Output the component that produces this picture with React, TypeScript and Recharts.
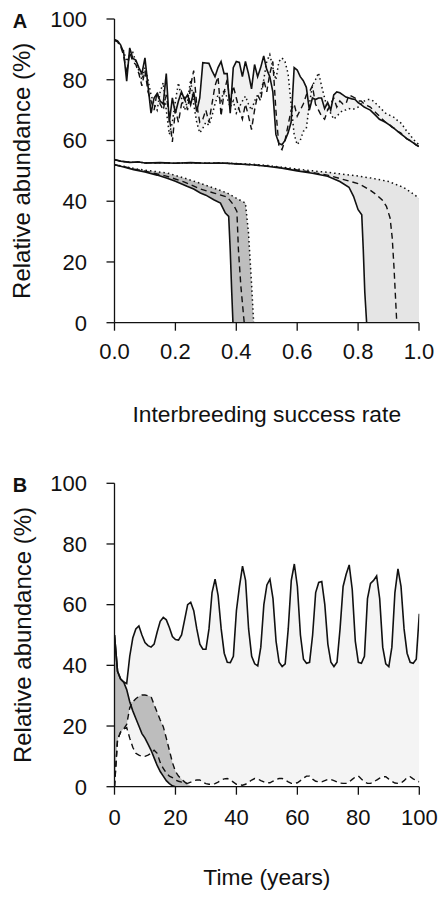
import React from "react";
import { ComposedChart, Line, Area, XAxis, YAxis, Label } from "recharts";

const FONT = '"Liberation Sans", Arial, Helvetica, sans-serif';
const INK = "#111";

// ---------- Panel A: sweep over interbreeding success rate ----------
const rateGrid = Array.from({ length: 101 }, (_, i) => i / 100);
const rateTicks = [0, 0.2, 0.4, 0.6, 0.8, 1];

// upper, noisy group (one value per 0.01 step)
const topSolid = [
  93.3, 92.8, 91.5, 89, 79.5, 90.5, 87, 86.5, 84, 82,
  87.2, 78, 69, 74, 75.5, 73, 72, 82, 66, 74,
  69, 73, 76, 73.5, 75, 71.8, 76, 69.5, 74, 85.6,
  85.5, 85.4, 83, 81, 84, 86, 82, 82, 69, 84,
  86, 85.7, 81, 86, 82, 77, 85, 81, 84, 87.8,
  83.4, 81, 76, 62, 59, 58.6, 60, 62.5, 66, 84,
  83.2, 81, 79.7, 77.5, 70, 74, 73.5, 74, 74, 70.5,
  72.5, 70, 75, 76, 75.7, 75, 74.3, 74, 73.7, 73.5,
  72.5, 71.8, 71, 70.5, 70, 69, 68, 67, 66.5, 66,
  65.3, 64.6, 63.8, 63, 62.2, 61.4, 60.6, 60, 59.3, 58.6, 58,
];
const topDashed = [
  93, 92.5, 91, 88, 82, 89, 86, 85, 82, 78,
  83, 76, 73, 70, 76, 72, 70, 75, 68, 59.5,
  70, 66, 72, 74, 70, 78, 83, 72, 66, 67,
  70, 66, 72, 78, 81, 68, 76, 80, 72, 78,
  74, 70, 67, 72, 68, 63.6, 70, 75, 73, 80,
  76, 82, 86, 70, 58, 57, 60, 65, 70, 72,
  68, 70, 72, 75, 76, 78, 72, 70, 68, 67,
  70, 72, 74, 71, 73, 72, 72, 75, 74.5, 74,
  73, 73, 72, 71.5, 71, 70, 69, 68, 67, 66,
  65.5, 64.5, 64, 63, 62.5, 61.5, 60.5, 60, 59.5, 58.5, 58,
];
const topDotted = [
  93, 92.5, 91, 89.5, 86, 88, 89, 86, 83, 80,
  84, 80, 75, 72, 70, 76, 79, 70, 62, 66,
  73, 79, 74, 70, 73, 80, 72, 66, 62.5, 64,
  66, 65, 68, 72, 75, 73, 76.8, 74, 71, 73,
  69, 71, 73, 74.6, 72, 70, 73, 75, 75.7, 80,
  86, 88.3, 84, 80, 86, 87.2, 86, 82, 72, 62,
  58.6, 60, 63, 64, 72, 78, 80, 82.3, 78, 74,
  70.2, 69, 67, 68, 69, 70, 70, 70.5, 70.2, 70.5,
  71, 72, 73, 73.5, 73.5, 73, 72, 71, 70, 69,
  68.5, 68, 67.5, 66.5, 65.8, 64.5, 63, 62, 60.5, 59.5, 58.6,
];

// lower groups: [rate, abundance] pairs, each curve collapses to zero
const rightSolid: [number, number][] = [
  [0, 53.7], [0.02, 53.2], [0.05, 52.8], [0.08, 52.9], [0.1, 52.6], [0.15, 52.7],
  [0.2, 52.5], [0.25, 52.7], [0.3, 52.5], [0.35, 52.6], [0.4, 52.3], [0.45, 52],
  [0.5, 51.5], [0.55, 50.9], [0.6, 50], [0.65, 49.2], [0.7, 48.2], [0.74, 46.5],
  [0.77, 44.6], [0.785, 41.6], [0.8, 37.2], [0.812, 35.5], [0.817, 24], [0.822, 10],
  [0.828, 0],
];
const rightDashed: [number, number][] = [
  [0, 53.7], [0.02, 53.2], [0.05, 52.8], [0.08, 52.9], [0.1, 52.6], [0.15, 52.7],
  [0.2, 52.5], [0.25, 52.7], [0.3, 52.5], [0.35, 52.6], [0.4, 52.3], [0.45, 52],
  [0.5, 51.6], [0.55, 51], [0.6, 50.3], [0.65, 49.5], [0.7, 48.6], [0.75, 47.2],
  [0.8, 45.8], [0.818, 44.9], [0.84, 43.6], [0.861, 42.1], [0.88, 40.3], [0.893, 38.3],
  [0.905, 34.5], [0.912, 28], [0.918, 18], [0.927, 0],
];
const rightDotted: [number, number][] = [
  [0, 53.7], [0.02, 53.2], [0.05, 52.8], [0.08, 52.9], [0.1, 52.6], [0.15, 52.7],
  [0.2, 52.5], [0.25, 52.7], [0.3, 52.5], [0.35, 52.6], [0.4, 52.4], [0.45, 52.2],
  [0.5, 51.8], [0.55, 51.2], [0.6, 50.6], [0.65, 50], [0.7, 49.5], [0.75, 48.9],
  [0.8, 48.3], [0.85, 47.5], [0.9, 46.5], [0.95, 44.5], [0.97, 43.2], [1, 41],
];
const leftSolid: [number, number][] = [
  [0, 52], [0.03, 51.3], [0.063, 50.4], [0.1, 49.6], [0.14, 48.6], [0.173, 47.6],
  [0.2, 46.6], [0.238, 44.9], [0.26, 44], [0.282, 42.7], [0.3, 42], [0.326, 40.5],
  [0.348, 39.4], [0.364, 36.1], [0.375, 35], [0.38, 24], [0.385, 10], [0.389, 0],
];
const leftDashed: [number, number][] = [
  [0, 52], [0.03, 51.4], [0.063, 50.6], [0.1, 49.9], [0.173, 48.2], [0.23, 46.3],
  [0.282, 44], [0.33, 42.6], [0.37, 41.4], [0.391, 38.8], [0.402, 36.6], [0.407, 24],
  [0.415, 12], [0.426, 0],
];
const leftDotted: [number, number][] = [
  [0, 52], [0.03, 51.5], [0.063, 50.8], [0.1, 50.2], [0.173, 49.3], [0.23, 47.6],
  [0.282, 45.9], [0.33, 44.2], [0.37, 42.7], [0.4, 41], [0.43, 39.4], [0.44, 29.6],
  [0.45, 13], [0.457, 0],
];

// ---------- Panel B: time series (one value per year) ----------
const years = Array.from({ length: 101 }, (_, i) => i);
const timeTicks = [0, 20, 40, 60, 80, 100];

const solidB = [
  50, 38, 35.5, 34.5, 34, 43, 49, 52, 53, 50,
  47.5, 46.5, 46, 47, 51, 54.5, 55.8, 55, 52.5, 49.5,
  48.5, 48.3, 50, 55, 60, 60.8, 58, 52, 47, 45.3,
  45.3, 52, 64, 68.4, 63, 52, 44, 41, 40.9, 43,
  58, 66, 72.7, 68, 52, 43, 40.5, 39.8, 46, 60,
  66.5, 68.4, 62, 48, 41, 39.6, 40.5, 52, 68, 73.4,
  66, 50, 42, 40.7, 41, 50, 64, 67.3, 67.6, 60,
  47, 41, 39.6, 41, 52, 66, 70, 73.1, 65, 48,
  41, 40.7, 43, 62, 67, 68, 69.5, 62, 46, 40.5,
  39.6, 46, 64, 71.8, 66, 52, 44, 41, 40.7, 42, 57,
];
const dashedB = [
  0, 15.5, 18, 19, 19.5, 16, 13, 11, 10.4, 10,
  10, 10.4, 11, 12, 11, 8, 6, 4.5, 3.5, 3,
  2.2, 1.8, 1.5, 1.2, 1.1, 1.5, 2, 2.2, 2.2, 1.5,
  1, 0.8, 0.8, 1, 1.5, 2.2, 2.6, 2.7, 2.2, 1.5,
  0.8, 0.6, 0.5, 0.8, 1.5, 2.2, 2.7, 2.6, 2, 1.6,
  1.3, 1.3, 1.8, 2.4, 2.7, 2.7, 2.2, 1.6, 1.1, 1.1,
  1.3, 2, 2.8, 3.5, 3.5, 2.5, 1.8, 1.6, 1.6, 2,
  2.4, 2.4, 2, 1.6, 1.2, 1.1, 1.1, 1.6, 2.4, 3.2,
  3.5, 2.5, 1.6, 1.1, 1.1, 1.5, 2.2, 2.8, 3.3, 3.3,
  2.5, 1.8, 1.2, 1.1, 1.2, 2, 3, 3.3, 2.6, 2, 1.6,
];
// the collapsing pair, defined until it reaches zero
const solidA = [
  50, 38, 35.5, 34.5, 32, 28, 25, 22.5, 20, 17.5,
  16, 14, 12, 9.5, 7, 5, 3.5, 2, 1, 0.3, 0,
];
const dashedA = [
  0, 15.5, 18, 19, 20.5, 26, 28, 29, 29.8, 30.2,
  30.2, 30, 29.7, 27, 24.5, 22, 19.8, 16, 12, 8,
  5, 3.5, 2.5, 1.6, 0.8, 0.3,
];

// ---------- tables ----------
const topRows = rateGrid.map((x, i) => {
  const s = topSolid[i];
  const d = topDashed[i];
  const o = topDotted[i];
  return { x, s, d, o, band: [Math.min(s, d, o), Math.max(s, d, o)] };
});
const toPts = (p: [number, number][]) => p.map(([x, y]) => ({ x, y }));

const timeRows = years.map((t, i) => {
  const sa = i < solidA.length ? solidA[i] : null;
  const da = i < dashedA.length ? dashedA[i] : null;
  const dark =
    da === null ? null : [Math.min(sa ?? 0, da), Math.max(sa ?? 0, da)];
  return {
    t,
    sB: solidB[i],
    dB: dashedB[i],
    sA: sa,
    dA: da,
    light: [dashedB[i], solidB[i]],
    dark,
  };
});

const tickStyle = { fill: INK, fontSize: 22, fontFamily: FONT };
const axisStroke = { stroke: INK, strokeWidth: 1.3 };
const SOLID = { stroke: INK, strokeWidth: 1.6 };
const DASHED = { stroke: INK, strokeWidth: 1.4, strokeDasharray: "6 4" };
const DOTTED = { stroke: INK, strokeWidth: 1.5, strokeDasharray: "1.5 3" };

const yTitle = (letter: string) => (props: any) => {
  const vb = props.viewBox ?? { x: 0, y: 0, width: 0, height: 0 };
  const cx = vb.x + 22;
  const cy = vb.y + vb.height / 2;
  return (
    <g>
      <text
        x={cx}
        y={cy}
        transform={`rotate(-90 ${cx} ${cy})`}
        textAnchor="middle"
        dominantBaseline="central"
        fontSize={24}
        fontFamily={FONT}
        fill={INK}
      >
        Relative abundance (%)
      </text>
      <text
        x={vb.x + 20}
        y={vb.y + 1.5}
        textAnchor="middle"
        dominantBaseline="central"
        fontSize={20}
        fontWeight="bold"
        fontFamily={FONT}
        fill={INK}
      >
        {letter}
      </text>
    </g>
  );
};

function PanelA() {
  return (
    <ComposedChart
      width={438}
      height={440}
      data={topRows}
      margin={{ top: 19, right: 19, bottom: 0, left: 0 }}
    >
      <Area type="linear" dataKey="band" fill="#f1f1f1" fillOpacity={1} stroke="none" isAnimationActive={false} />
      <Area type="linear" data={toPts(rightDotted)} dataKey="y" fill="#e5e5e5" fillOpacity={1} stroke="none" baseValue={0} isAnimationActive={false} />
      <Area type="linear" data={toPts(rightSolid)} dataKey="y" fill="#ffffff" fillOpacity={1} stroke="none" baseValue={0} isAnimationActive={false} />
      <Area type="linear" data={toPts(leftDotted)} dataKey="y" fill="#bebebe" fillOpacity={1} stroke="none" baseValue={0} isAnimationActive={false} />
      <Area type="linear" data={toPts(leftSolid)} dataKey="y" fill="#ffffff" fillOpacity={1} stroke="none" baseValue={0} isAnimationActive={false} />

      <Line type="linear" dataKey="o" dot={false} {...DOTTED} isAnimationActive={false} />
      <Line type="linear" dataKey="d" dot={false} {...DASHED} isAnimationActive={false} />
      <Line type="linear" dataKey="s" dot={false} {...SOLID} isAnimationActive={false} />

      <Line type="linear" data={toPts(rightDotted)} dataKey="y" dot={false} {...DOTTED} isAnimationActive={false} />
      <Line type="linear" data={toPts(rightDashed)} dataKey="y" dot={false} {...DASHED} isAnimationActive={false} />
      <Line type="linear" data={toPts(rightSolid)} dataKey="y" dot={false} {...SOLID} isAnimationActive={false} />
      <Line type="linear" data={toPts(leftDotted)} dataKey="y" dot={false} {...DOTTED} isAnimationActive={false} />
      <Line type="linear" data={toPts(leftDashed)} dataKey="y" dot={false} {...DASHED} isAnimationActive={false} />
      <Line type="linear" data={toPts(leftSolid)} dataKey="y" dot={false} {...SOLID} isAnimationActive={false} />

      <XAxis
        dataKey="x"
        type="number"
        domain={[0, 1]}
        ticks={rateTicks}
        interval={0}
        allowDataOverflow
        tickFormatter={(v: number) => v.toFixed(1)}
        tick={tickStyle}
        tickSize={8}
        tickMargin={13}
        axisLine={axisStroke}
        tickLine={axisStroke}
        height={117.3}
      >
        <Label
          value="Interbreeding success rate"
          position="insideBottom"
          offset={18}
          style={{ fontSize: 22.8, fill: INK, fontFamily: FONT }}
        />
      </XAxis>
      <YAxis
        type="number"
        domain={[0, 100]}
        ticks={[0, 20, 40, 60, 80, 100]}
        interval={0}
        allowDataOverflow
        tick={tickStyle}
        tickSize={8}
        tickMargin={19.5}
        axisLine={axisStroke}
        tickLine={axisStroke}
        width={114.5}
      >
        <Label content={yTitle("A")} />
      </YAxis>
    </ComposedChart>
  );
}

function PanelB() {
  return (
    <ComposedChart
      width={438}
      height={458}
      data={timeRows}
      margin={{ top: 43.3, right: 18.7, bottom: 0, left: 0 }}
    >
      <Area type="linear" dataKey="light" fill="#f4f4f4" fillOpacity={1} stroke="none" isAnimationActive={false} />
      <Area type="linear" dataKey="dark" fill="#bdbdbd" fillOpacity={1} stroke="none" isAnimationActive={false} />

      <Line type="linear" dataKey="dB" dot={false} {...DASHED} isAnimationActive={false} />
      <Line type="linear" dataKey="dA" dot={false} {...DASHED} isAnimationActive={false} />
      <Line type="linear" dataKey="sA" dot={false} {...SOLID} isAnimationActive={false} />
      <Line type="linear" dataKey="sB" dot={false} {...SOLID} isAnimationActive={false} />

      <XAxis
        dataKey="t"
        type="number"
        domain={[0, 100]}
        ticks={timeTicks}
        interval={0}
        allowDataOverflow
        tick={tickStyle}
        tickSize={8}
        tickMargin={15}
        axisLine={axisStroke}
        tickLine={axisStroke}
        height={111.3}
      >
        <Label
          value="Time (years)"
          position="insideBottom"
          offset={13}
          style={{ fontSize: 22.8, fill: INK, fontFamily: FONT }}
        />
      </XAxis>
      <YAxis
        type="number"
        domain={[0, 100]}
        ticks={[0, 20, 40, 60, 80, 100]}
        interval={0}
        allowDataOverflow
        tick={tickStyle}
        tickSize={8}
        tickMargin={19.5}
        axisLine={axisStroke}
        tickLine={axisStroke}
        width={114.5}
      >
        <Label content={yTitle("B")} />
      </YAxis>
    </ComposedChart>
  );
}

export default function App() {
  return (
    <div
      style={{
        position: "absolute",
        left: 0,
        top: 0,
        width: 438,
        height: 898,
        background: "#fff",
        fontFamily: FONT,
      }}
    >
      <PanelA />
      <PanelB />
    </div>
  );
}
